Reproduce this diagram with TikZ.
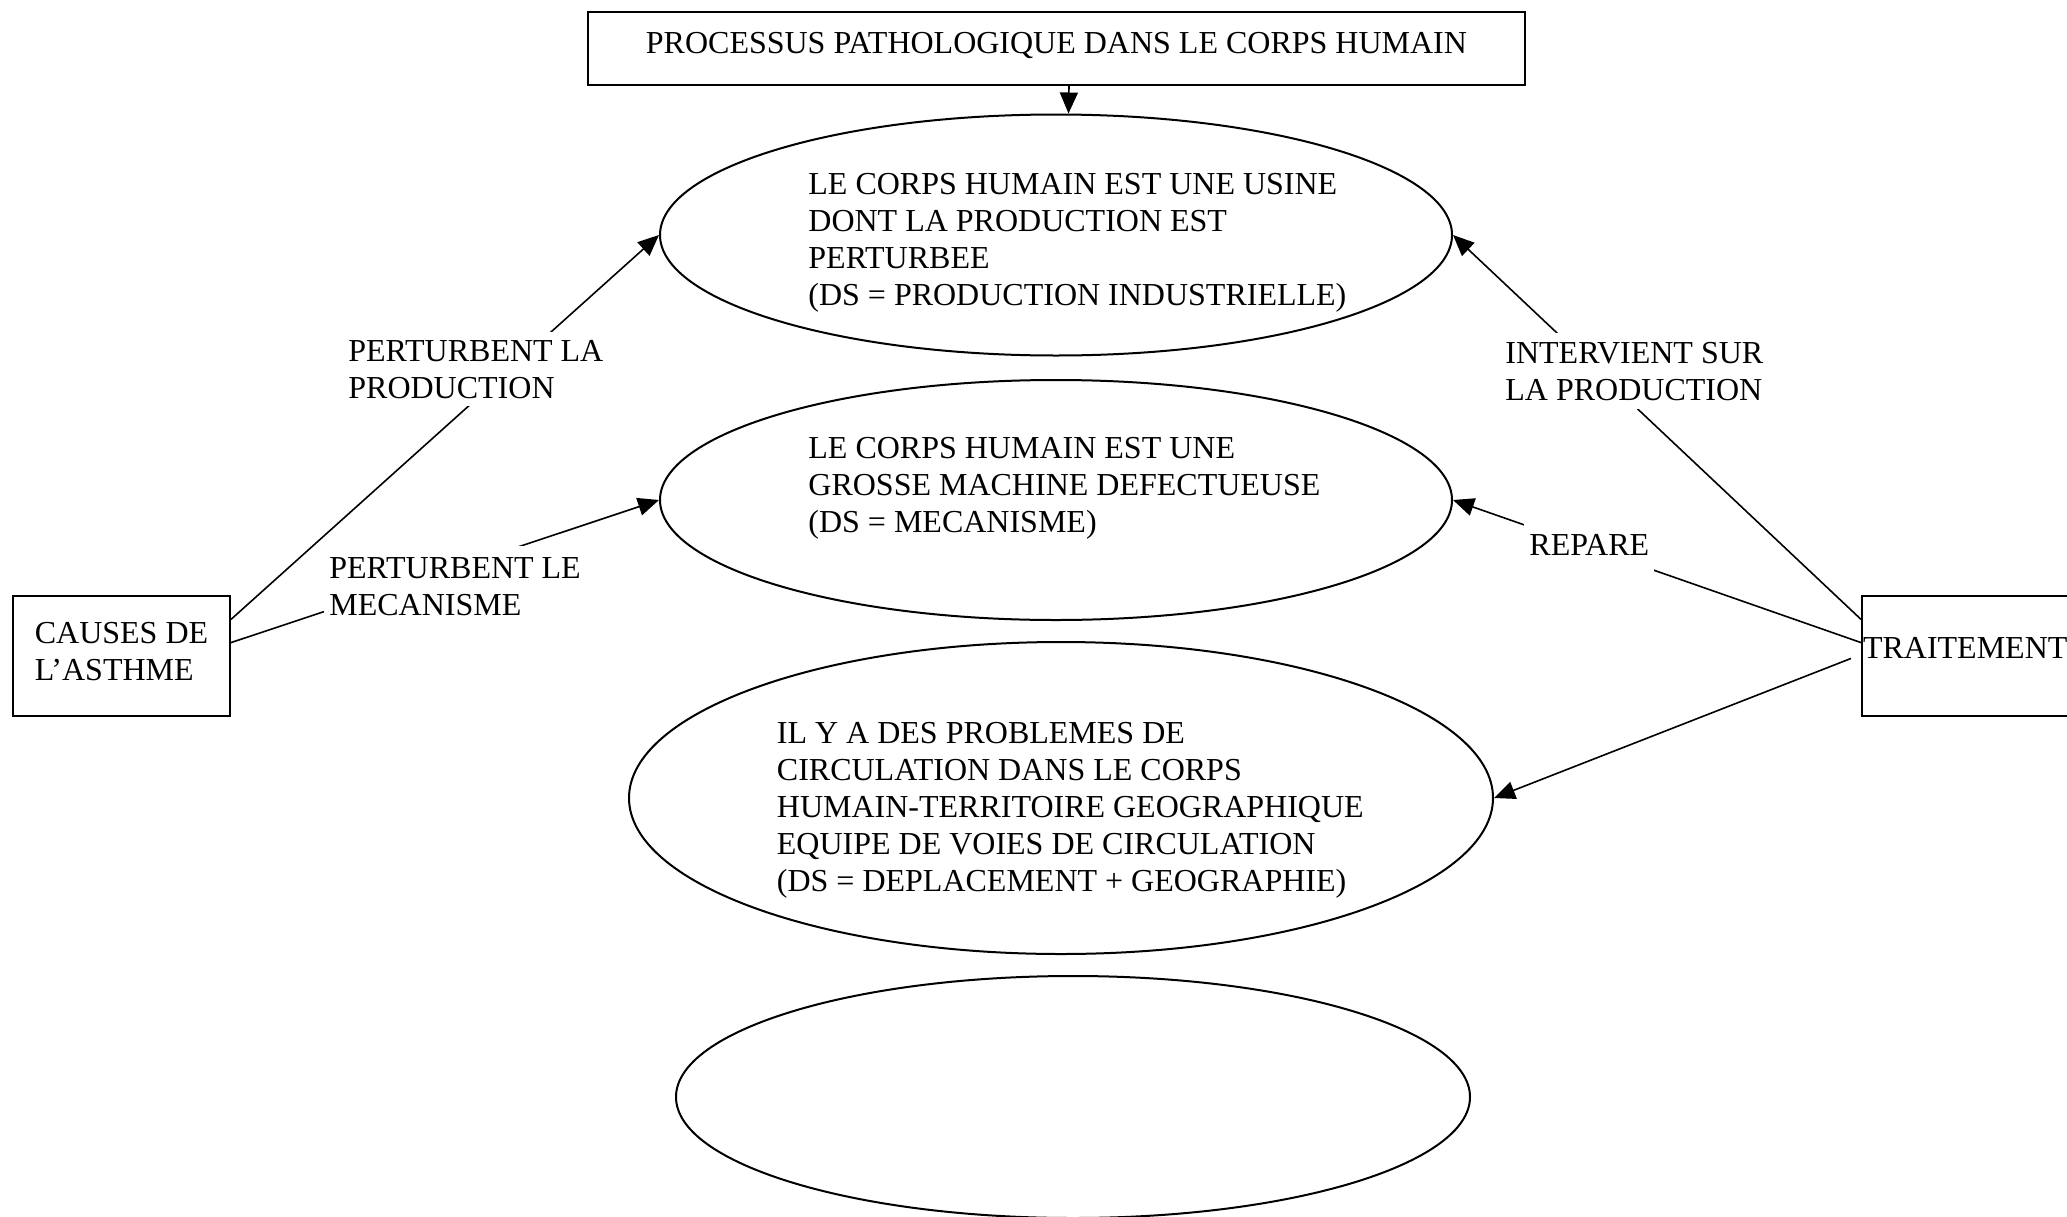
\documentclass[tikz,border=0pt]{standalone}
\usepackage{fontspec}
\setmainfont{Liberation Serif}
\usetikzlibrary{arrows.meta,shapes.geometric,calc}

\begin{document}
\begin{tikzpicture}[x=0.5pt,y=-0.5pt,
  every node/.style={font=\fontsize{16pt}{18.5pt}\selectfont},
  box/.style={draw, line width=1pt, rectangle, inner sep=0pt},
  oval/.style={draw, line width=1pt, ellipse, inner sep=0pt},
  txt/.style={align=left, inner sep=0pt, anchor=base west},
  lbl/.style={fill=white, align=left, inner xsep=2.5pt, anchor=base west},
  link/.style={line width=0.8pt},
  arr/.style={link, -{Triangle[length=10.5pt,width=9pt]}}
]
% page frame
\useasboundingbox (0,0) rectangle (2067,1216);
\clip (0,0) rectangle (2067,1216);
\fill[white] (0,0) rectangle (2067,1216);

% title box
\node[box, minimum width=468.5pt, minimum height=36.5pt,
      text height=10.6pt, text depth=6.1pt] (title) at (1056.5,48.5)
  {PROCESSUS PATHOLOGIQUE DANS LE CORPS HUMAIN};

% the four representations
\node[oval, minimum width=396pt, minimum height=120.5pt] (e1) at (1056,235) {};
\node[oval, minimum width=396pt, minimum height=120pt]   (e2) at (1056,500) {};
\node[oval, minimum width=432pt, minimum height=156pt]   (e3) at (1061,798) {};
\node[oval, minimum width=397pt, minimum height=121pt]   (e4) at (1073,1097) {};

% texts, placed by the baseline of their last line
\node[txt] (t1) at (808,305)
  {LE CORPS HUMAIN EST UNE USINE\\DONT LA PRODUCTION EST\\PERTURBEE\\(DS = PRODUCTION INDUSTRIELLE)};
\node[txt] (t2) at (808,532)
  {LE CORPS HUMAIN EST UNE\\GROSSE MACHINE DEFECTUEUSE\\(DS = MECANISME)};
\node[txt] (t3) at (776.5,891)
  {IL Y A DES PROBLEMES DE\\CIRCULATION DANS LE CORPS\\HUMAIN-TERRITOIRE GEOGRAPHIQUE\\EQUIPE DE VOIES DE CIRCULATION\\(DS = DEPLACEMENT + GEOGRAPHIE)};

% side boxes
\node[box, minimum width=108.5pt, minimum height=60pt, align=left] (causes) at (121.5,656)
  {CAUSES DE\\L’ASTHME\rule[-5pt]{0pt}{5pt}};
\node[box, minimum width=110pt, minimum height=60pt, anchor=west] (trait) at (1861,656)
  {TRAITEMENT\rule[-7.6pt]{0pt}{7.6pt}\hspace*{6.8pt}};

\coordinate (tfree) at ($(trait.north west)!0.52!(trait.south west)+(-10,0)$);

% connectors
\draw[arr] ([xshift=6.25pt]title.south) -- ([xshift=6.25pt]e1.north);
\draw[arr] ($(causes.north east)!0.2!(causes.south east)$) -- (e1.west);
\draw[arr] ($(causes.north east)!0.39!(causes.south east)$) -- (e2.west);
\draw[arr] ($(trait.north west)!0.2!(trait.south west)$) -- (e1.east);
\draw[arr] ($(trait.north west)!0.39!(trait.south west)$) -- (e2.east);
\draw[arr] (tfree) -- (e3.east);

% connector labels
\node[lbl, inner ysep=3.9pt] (lprod) at (343,398) {PERTURBENT LA\\PRODUCTION};
\node[lbl, inner ysep=5.4pt] (lmeca) at (324,615) {PERTURBENT LE\\MECANISME};
\node[lbl, inner ysep=4.25pt] (linter) at (1500,400) {INTERVIENT SUR\\LA PRODUCTION};
\node[lbl, inner ysep=5pt, text height=12pt, text depth=8.5pt] (lrep) at (1524,555) {REPARE};
\end{tikzpicture}
\end{document}
